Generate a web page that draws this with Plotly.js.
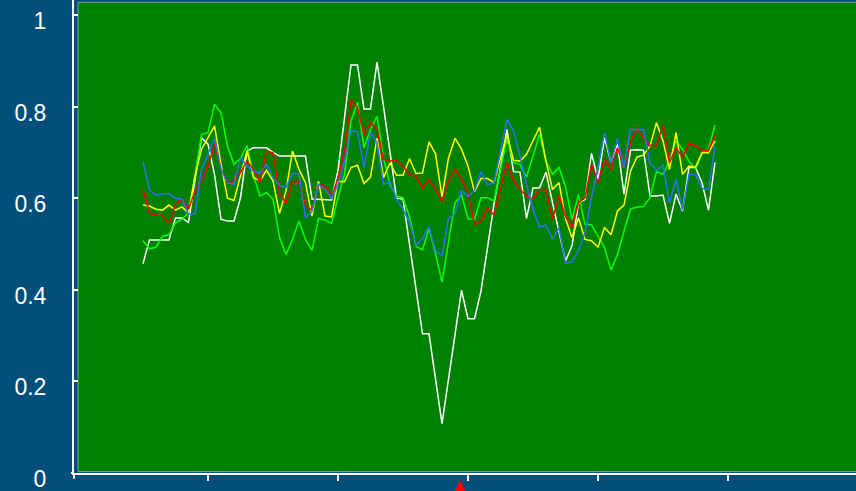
<!DOCTYPE html>
<html>
<head>
<meta charset="utf-8">
<script src="https://cdn.plot.ly/plotly-3.0.1.min.js"></script>
<style>
  html, body { margin: 0; padding: 0; background: #004f7b; }
  #chart { width: 856px; height: 491px; }
</style>
</head>
<body>
<div id="chart"></div>
<script>
// Sample positions along the horizontal axis
const samples = [10, 11, 12, 13, 14, 15, 16, 17, 18, 19, 20, 21, 22, 23, 24, 25, 26, 27, 28, 29,
  30, 31, 32, 33, 34, 35, 36, 37, 38, 39, 40, 41, 42, 43, 44, 45, 46, 47, 48, 49,
  50, 51, 52, 53, 54, 55, 56, 57, 58, 59, 60, 61, 62, 63, 64, 65, 66, 67, 68, 69,
  70, 71, 72, 73, 74, 75, 76, 77, 78, 79, 80, 81, 82, 83, 84, 85, 86, 87, 88, 89,
  90, 91, 92, 93, 94, 95, 96, 97, 98];

const whiteSeries = [0.457, 0.509, 0.509, 0.509, 0.509, 0.557, 0.557, 0.547, 0.640, 0.732,
  0.718, 0.652, 0.554, 0.550, 0.550, 0.601, 0.703, 0.710, 0.710, 0.710,
  0.700, 0.692, 0.692, 0.692, 0.692, 0.692, 0.598, 0.597, 0.597, 0.596,
  0.660, 0.780, 0.891, 0.891, 0.795, 0.795, 0.897, 0.800, 0.700, 0.600,
  0.598, 0.500, 0.400, 0.304, 0.304, 0.205, 0.108, 0.205, 0.300, 0.399,
  0.337, 0.337, 0.397, 0.490, 0.587, 0.668, 0.750, 0.658, 0.657, 0.556,
  0.622, 0.622, 0.657, 0.590, 0.525, 0.463, 0.496, 0.590, 0.597, 0.698,
  0.641, 0.732, 0.678, 0.718, 0.609, 0.705, 0.706, 0.705, 0.605, 0.605,
  0.607, 0.545, 0.609, 0.572, 0.667, 0.667, 0.634, 0.574, 0.678];

const greenSeries = [0.507, 0.490, 0.493, 0.517, 0.520, 0.547, 0.554, 0.568, 0.650, 0.739,
  0.743, 0.805, 0.787, 0.714, 0.674, 0.687, 0.715, 0.649, 0.605, 0.612,
  0.598, 0.514, 0.477, 0.510, 0.550, 0.510, 0.486, 0.556, 0.552, 0.545,
  0.601, 0.652, 0.769, 0.809, 0.710, 0.750, 0.779, 0.688, 0.630, 0.605,
  0.601, 0.560, 0.495, 0.487, 0.534, 0.479, 0.417, 0.507, 0.590, 0.608,
  0.555, 0.554, 0.601, 0.601, 0.594, 0.663, 0.729, 0.678, 0.674, 0.646,
  0.692, 0.739, 0.681, 0.652, 0.667, 0.625, 0.554, 0.608, 0.543, 0.542,
  0.517, 0.492, 0.443, 0.477, 0.528, 0.576, 0.581, 0.582, 0.601, 0.658,
  0.652, 0.681, 0.725, 0.707, 0.681, 0.663, 0.699, 0.707, 0.760];

const yellowSeries = [0.585, 0.583, 0.576, 0.574, 0.585, 0.574, 0.581, 0.568, 0.648, 0.707,
  0.732, 0.758, 0.674, 0.600, 0.595, 0.648, 0.703, 0.645, 0.638, 0.661,
  0.638, 0.567, 0.616, 0.703, 0.663, 0.634, 0.561, 0.637, 0.561, 0.559,
  0.637, 0.636, 0.667, 0.672, 0.632, 0.646, 0.731, 0.645, 0.677, 0.650,
  0.650, 0.686, 0.654, 0.655, 0.723, 0.697, 0.603, 0.688, 0.731, 0.707,
  0.670, 0.614, 0.643, 0.643, 0.634, 0.688, 0.739, 0.683, 0.681, 0.696,
  0.725, 0.755, 0.681, 0.619, 0.634, 0.555, 0.514, 0.557, 0.510, 0.507,
  0.493, 0.536, 0.520, 0.572, 0.585, 0.659, 0.690, 0.694, 0.714, 0.765,
  0.725, 0.663, 0.743, 0.652, 0.670, 0.668, 0.699, 0.699, 0.725];

const redSeries = [0.619, 0.568, 0.563, 0.563, 0.544, 0.587, 0.598, 0.576, 0.616, 0.638,
  0.670, 0.718, 0.663, 0.634, 0.638, 0.656, 0.681, 0.663, 0.634, 0.703,
  0.699, 0.612, 0.588, 0.636, 0.637, 0.583, 0.574, 0.630, 0.627, 0.601,
  0.645, 0.703, 0.814, 0.798, 0.739, 0.765, 0.750, 0.685, 0.681, 0.683,
  0.670, 0.651, 0.648, 0.622, 0.641, 0.619, 0.593, 0.638, 0.663, 0.641,
  0.612, 0.543, 0.550, 0.579, 0.563, 0.623, 0.678, 0.638, 0.619, 0.605,
  0.598, 0.619, 0.619, 0.554, 0.607, 0.560, 0.536, 0.590, 0.601, 0.674,
  0.634, 0.685, 0.663, 0.710, 0.667, 0.721, 0.754, 0.729, 0.715, 0.715,
  0.760, 0.678, 0.710, 0.689, 0.719, 0.714, 0.704, 0.704, 0.739];

const blueSeries = [0.681, 0.617, 0.607, 0.609, 0.610, 0.600, 0.598, 0.565, 0.566, 0.663,
  0.699, 0.731, 0.663, 0.634, 0.630, 0.688, 0.670, 0.659, 0.654, 0.675,
  0.645, 0.628, 0.623, 0.654, 0.654, 0.557, 0.572, 0.630, 0.619, 0.600,
  0.630, 0.681, 0.748, 0.745, 0.667, 0.745, 0.721, 0.630, 0.636, 0.597,
  0.576, 0.547, 0.499, 0.511, 0.538, 0.485, 0.474, 0.556, 0.566, 0.616,
  0.604, 0.617, 0.658, 0.629, 0.634, 0.703, 0.772, 0.747, 0.692, 0.630,
  0.576, 0.537, 0.541, 0.510, 0.536, 0.458, 0.461, 0.486, 0.525, 0.601,
  0.667, 0.743, 0.677, 0.730, 0.667, 0.750, 0.750, 0.750, 0.677, 0.661,
  0.672, 0.590, 0.641, 0.574, 0.652, 0.652, 0.621, 0.619, 0.714];

// Axis ticks
const xTicks = [20, 40, 60, 80, 100];
const yTicks = [0, 0.2, 0.4, 0.6, 0.8, 1];
const yTickLabels = ['0', '0.2', '0.4', '0.6', '0.8', '1'];

// Position flagged by the red marker under the axis
const flaggedX = 58.8;

const seriesList = [
  { y: whiteSeries,  color: '#ffffff' },
  { y: greenSeries,  color: '#00ff00' },
  { y: yellowSeries, color: '#ffff00' },
  { y: redSeries,    color: '#ff0000' },
  { y: blueSeries,   color: '#2f6ff0' }
];

const traces = seriesList.map(s => ({
  type: 'scatter',
  mode: 'lines',
  x: samples,
  y: s.y,
  line: { color: s.color, width: 1.5 },
  hoverinfo: 'skip',
  showlegend: false
}));

const pxPerUnit = 6.5;
const layout = {
  width: 856,
  height: 491,
  margin: { l: 74, r: 0, t: 0, b: 18, pad: 0 },
  paper_bgcolor: '#004f7b',
  plot_bgcolor: 'rgba(0,0,0,0)',
  font: { family: 'Arial, "Liberation Sans", sans-serif', color: '#ffffff', size: 23 },
  showlegend: false,
  xaxis: {
    range: [-4 / pxPerUnit, 778 / pxPerUnit],
    showgrid: false,
    zeroline: false,
    showline: true,
    linecolor: '#ffffff',
    linewidth: 2,
    ticks: 'outside',
    ticklen: 6,
    tickwidth: 2,
    tickcolor: '#ffffff',
    tickmode: 'array',
    tickvals: xTicks,
    showticklabels: false,
    fixedrange: true
  },
  yaxis: {
    range: [0, 473 / 458],
    showgrid: false,
    zeroline: false,
    showline: true,
    linecolor: '#ffffff',
    linewidth: 2,
    ticks: 'inside',
    ticklen: 4,
    tickwidth: 2,
    tickcolor: '#ffffff',
    tickmode: 'array',
    tickvals: yTicks,
    ticktext: yTickLabels,
    ticklabelstandoff: 21,
    ticklabelshift: 6,
    ticklabeloverflow: 'allow',
    tickfont: { size: 23, color: '#ffffff' },
    fixedrange: true
  },
  shapes: [
    {
      type: 'rect', layer: 'below',
      xref: 'x', x0: 0, x1: 130,
      yref: 'paper', y0: 0.003, y1: 0.995,
      fillcolor: '#008000',
      line: { color: '#8c9c8c', width: 1 }
    },
    {
      type: 'line', layer: 'above',
      xref: 'paper', x0: 0, x1: 0,
      yref: 'paper', y0: 0, y1: -0.012,
      line: { color: '#ffffff', width: 2 }
    },
    {
      type: 'line', layer: 'above',
      xref: 'paper', x0: -0.004, x1: 0,
      yref: 'paper', y0: 0, y1: 0,
      line: { color: '#ffffff', width: 2 }
    },
    {
      type: 'path', layer: 'above',
      xref: 'x', xsizemode: 'pixel', xanchor: flaggedX,
      yref: 'paper', ysizemode: 'pixel', yanchor: 0,
      path: 'M-7,-22 L0,-7 L7,-22 Z',
      fillcolor: '#ff0000',
      line: { color: '#ff0000', width: 0 }
    }
  ]
};

Plotly.newPlot('chart', traces, layout, { staticPlot: true, displayModeBar: false });
</script>
</body>
</html>
